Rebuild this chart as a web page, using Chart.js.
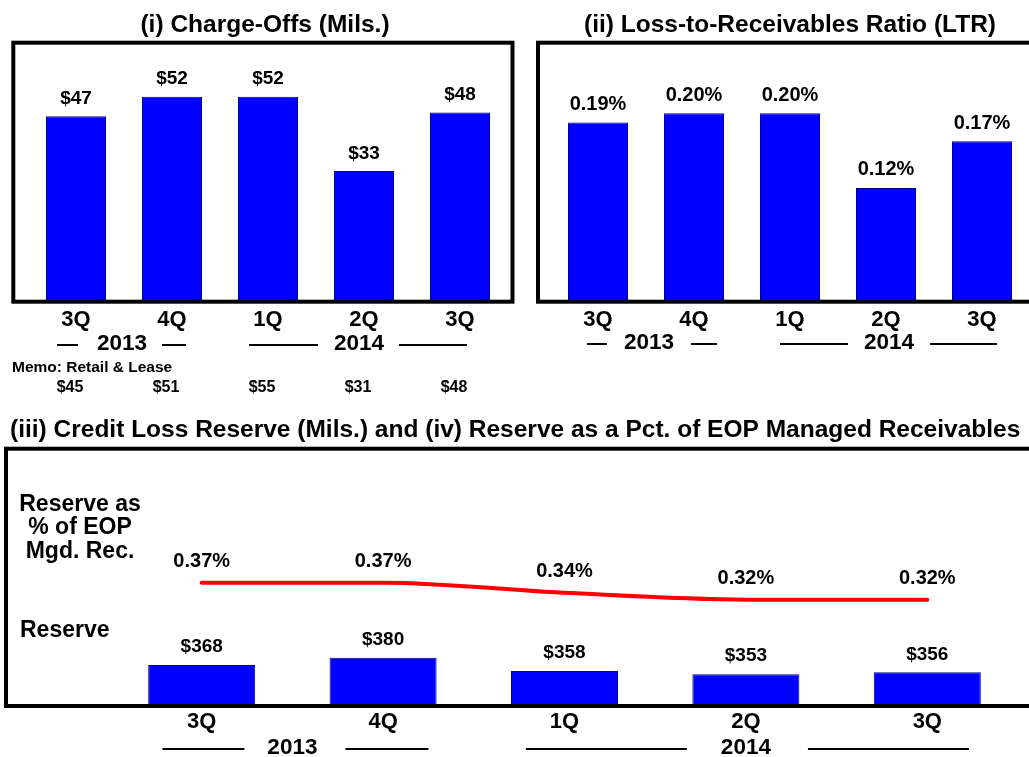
<!DOCTYPE html>
<html><head><meta charset="utf-8">
<script src="https://cdn.jsdelivr.net/npm/chart.js@4.4.1/dist/chart.umd.min.js"></script>
<style>
html,body{margin:0;padding:0;background:#fff;overflow:hidden;width:1029px;height:757px;position:relative}
canvas{position:absolute}
</style></head><body>
<canvas id="c1" width="520" height="400" style="left:0;top:0"></canvas>
<canvas id="c2" width="520" height="400" style="left:520px;top:0"></canvas>
<canvas id="c3" width="1040" height="357" style="left:0;top:400px"></canvas>
<script>
// ---- data ----
const quarters = ['3Q','4Q','1Q','2Q','3Q'];
const yearLabels = ['2013','2014'];
const yearSpans = [[0,1],[2,4]];
const chargeOffs = [47,52,52,33,48];
const memoRetailLease = [45,51,55,31,48];
const lossToReceivables = [0.19,0.20,0.20,0.12,0.17];
const reserve = [368,380,358,353,356];
const reservePct = [0.37,0.37,0.34,0.32,0.32];

const FONT = '"Liberation Sans", Arial, Helvetica, sans-serif';
const BLUE = '#0000FF';

function makeDecor(cfg){
  return {
    id:'decor',
    afterDraw(chart){
      const ctx = chart.ctx, ca = chart.chartArea, xs = chart.scales.x;
      ctx.save();
      // frame
      ctx.lineWidth = 4; ctx.strokeStyle = '#000';
      const f = cfg.frame;
      ctx.strokeRect(f[0], f[1], f[2]-f[0], f[3]-f[1]);
      ctx.fillStyle = '#000'; ctx.textBaseline = 'middle';
      // title
      ctx.font = 'bold 24.5px ' + FONT;
      ctx.textAlign = cfg.titleAlign;
      ctx.fillText(cfg.title, cfg.titleX, cfg.titleY);
      // value labels
      chart.data.datasets.forEach((ds, di) => {
        const L = cfg.labels[di];
        const meta = chart.getDatasetMeta(di);
        ctx.font = 'bold ' + L.size + 'px ' + FONT;
        ctx.textAlign = 'center';
        meta.data.forEach((el, i) => ctx.fillText(L.fmt(ds.data[i]), el.x, el.y - L.off));
      });
      // category labels
      ctx.font = 'bold 22px ' + FONT;
      ctx.textAlign = 'center';
      chart.data.labels.forEach((l, i) => ctx.fillText(l, xs.getPixelForValue(i), ca.bottom + cfg.tickGap));
      // year groups
      ctx.font = 'bold 22.5px ' + FONT;
      ctx.lineWidth = 2;
      yearLabels.forEach((y, k) => {
        const [a, b] = yearSpans[k];
        const cx = (xs.getPixelForValue(a) + xs.getPixelForValue(b)) / 2 + cfg.yearShift[k];
        const yy = ca.bottom + cfg.yearGap;
        ctx.fillText(y, cx, yy);
        const half = ctx.measureText(y).width / 2;
        const [gl, ll, gr, lr] = cfg.dash[k];
        ctx.beginPath();
        ctx.moveTo(cx - half - gl - ll, yy + 1); ctx.lineTo(cx - half - gl, yy + 1);
        ctx.moveTo(cx + half + gr, yy + 1); ctx.lineTo(cx + half + gr + lr, yy + 1);
        ctx.stroke();
      });
      if (cfg.extra) cfg.extra(ctx, chart);
      ctx.restore();
    }
  };
}

function baseOptions(padding, yScales){
  return {
    responsive:false, animation:false, devicePixelRatio:1, events:[],
    layout:{padding},
    plugins:{legend:{display:false}, tooltip:{enabled:false}, title:{display:false}},
    scales:Object.assign({x:{type:'category', display:false, offset:true, grid:{display:false}}}, yScales)
  };
}

const dollar = v => '$' + v;
const pct = v => v.toFixed(2) + '%';

// ---- (i) Charge-offs ----
new Chart(document.getElementById('c1'), {
  type:'bar',
  data:{labels:quarters, datasets:[{data:chargeOffs, backgroundColor:BLUE, borderColor:'#00008a', borderWidth:1,
    barPercentage:0.625, categoryPercentage:1}]},
  options:baseOptions({left:28, right:12, top:44, bottom:100},
    {y:{display:false, min:0, max:65.5}}),
  plugins:[makeDecor({
    frame:[13.3, 42.7, 512.5, 301.7],
    title:'(i) Charge-Offs (Mils.)', titleAlign:'center', titleX:265, titleY:25,
    labels:[{fmt:dollar, size:19, off:17.5}],
    tickGap:20, yearGap:44, yearShift:[-2,-5],
    dash:[[19,21,15,24],[16,69,15,68]],
    extra(ctx, chart){
      const xs = chart.scales.x;
      ctx.textAlign = 'left';
      ctx.font = 'bold 15.5px ' + FONT;
      ctx.fillText('Memo: Retail & Lease', 12, 368);
      ctx.textAlign = 'center';
      ctx.font = 'bold 16px "Liberation Sans Narrow", ' + FONT;
      memoRetailLease.forEach((v, i) => ctx.fillText('$' + v, xs.getPixelForValue(i) - 6, 388));
    }
  })]
});

// ---- (ii) Loss-to-Receivables ----
new Chart(document.getElementById('c2'), {
  type:'bar',
  data:{labels:quarters, datasets:[{data:lossToReceivables, backgroundColor:BLUE, borderColor:'#00008a', borderWidth:1,
    barPercentage:0.625, categoryPercentage:1}]},
  options:baseOptions({left:30, right:10, top:44, bottom:100},
    {y:{display:false, min:0, max:0.274}}),
  plugins:[makeDecor({
    frame:[18, 42.7, 560, 301.7],
    title:'(ii) Loss-to-Receivables Ratio (LTR)', titleAlign:'center', titleX:270, titleY:25,
    labels:[{fmt:pct, size:20, off:18}],
    tickGap:20, yearGap:43, yearShift:[3,3],
    dash:[[17,20,17,26],[16,68,16,67]]
  })]
});

// ---- (iii)/(iv) Reserve ----
new Chart(document.getElementById('c3'), {
  type:'bar',
  data:{labels:quarters, datasets:[
    {type:'bar', data:reserve, backgroundColor:BLUE, borderColor:'#00008a', borderWidth:1,
      barPercentage:0.59, categoryPercentage:1, yAxisID:'y', order:2},
    {type:'line', data:reservePct, borderColor:'#FF0000', borderWidth:4, borderCapStyle:'round',
      pointRadius:0, cubicInterpolationMode:'monotone', fill:false, yAxisID:'y2', order:1}
  ]},
  options:baseOptions({left:111, right:22, top:48, bottom:53},
    {y:{display:false, min:304, max:724}, y2:{display:false, min:0.013, max:0.766}}),
  plugins:[makeDecor({
    frame:[6, 48.7, 1100, 306],
    title:'(iii) Credit Loss Reserve (Mils.) and (iv) Reserve as a Pct. of EOP Managed Receivables',
    titleAlign:'left', titleX:10, titleY:30,
    labels:[{fmt:dollar, size:19, off:18}, {fmt:pct, size:20, off:21}],
    tickGap:18, yearGap:44, yearShift:[0,0],
    dash:[[23,82,28,83],[34,161,37,161]],
    extra(ctx){
      ctx.font = 'bold 23px ' + FONT;
      ctx.textAlign = 'center';
      ctx.fillText('Reserve as', 80, 105);
      ctx.fillText('% of EOP', 80, 128);
      ctx.fillText('Mgd. Rec.', 80, 152);
      ctx.textAlign = 'left';
      ctx.fillText('Reserve', 20, 231);
    }
  })]
});
</script>
</body></html>
